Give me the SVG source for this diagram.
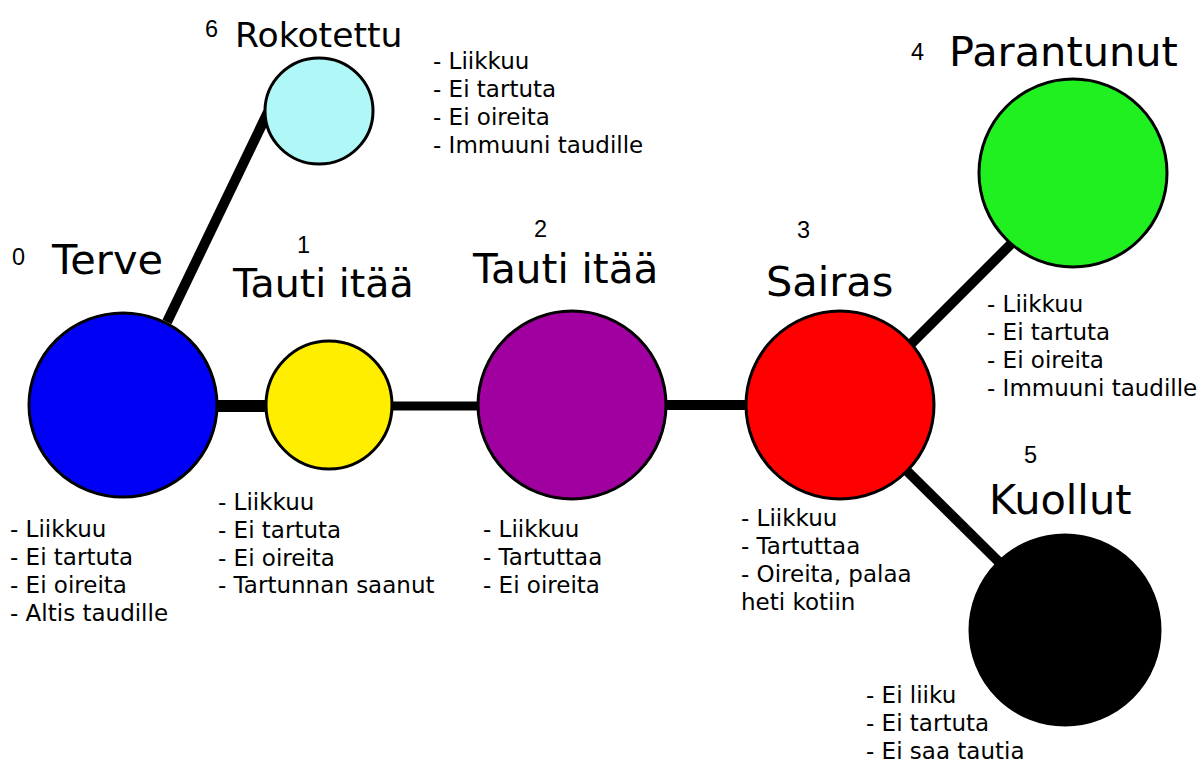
<svg xmlns="http://www.w3.org/2000/svg" width="1204" height="762" viewBox="0 0 1204 762">
<style>
.node{stroke:#000;stroke-width:3}
.edge{stroke:#000;fill:none}
.title{font-family:"DejaVu Sans","Noto Sans",sans-serif;font-size:41.5px;fill:#000}
.num{font-family:"Liberation Sans","DejaVu Sans",sans-serif;font-size:23.5px;fill:#000}
.list{font-family:"DejaVu Sans","Noto Sans",sans-serif;font-size:23px;fill:#000}
</style>
<rect width="1204" height="762" fill="#fff"/>
<g id="connectors">
<line class="edge" x1="167" y1="322" x2="268" y2="112" stroke-width="10"/>
<line class="edge" x1="215" y1="406" x2="268" y2="406" stroke-width="12"/>
<line class="edge" x1="390" y1="406" x2="480" y2="406" stroke-width="9"/>
<line class="edge" x1="665" y1="405" x2="747" y2="405" stroke-width="10"/>
<line class="edge" x1="910" y1="345" x2="1012" y2="243" stroke-width="10"/>
<line class="edge" x1="905" y1="469" x2="1000" y2="563" stroke-width="10"/>
</g>
<g id="node6">
<ellipse class="node" cx="319" cy="111" rx="54" ry="53" fill="#b0f7f7"/>
<text class="num" x="205" y="37">6</text>
<text class="title" x="235" y="47" style="font-size:34.6px">Rokotettu</text>
<text class="list" x="433" y="69">- Liikkuu</text>
<text class="list" x="433" y="97">- Ei tartuta</text>
<text class="list" x="433" y="125">- Ei oireita</text>
<text class="list" x="433" y="153">- Immuuni taudille</text>
</g>
<g id="node0">
<ellipse class="node" cx="123" cy="405" rx="94" ry="92" fill="#0000f5"/>
<text class="num" x="12" y="265">0</text>
<text class="title" x="52" y="274">Terve</text>
<text class="list" x="10" y="537">- Liikkuu</text>
<text class="list" x="10" y="565">- Ei tartuta</text>
<text class="list" x="10" y="593">- Ei oireita</text>
<text class="list" x="10" y="621">- Altis taudille</text>
</g>
<g id="node1">
<ellipse class="node" cx="329" cy="405" rx="63" ry="64" fill="#ffee00"/>
<text class="num" x="297" y="253">1</text>
<text class="title" x="233" y="297" style="font-size:39.5px">Tauti itää</text>
<text class="list" x="218" y="510">- Liikkuu</text>
<text class="list" x="218" y="538">- Ei tartuta</text>
<text class="list" x="218" y="566">- Ei oireita</text>
<text class="list" x="218" y="593">- Tartunnan saanut</text>
</g>
<g id="node2">
<ellipse class="node" cx="572" cy="405" rx="94" ry="94" fill="#a000a0"/>
<text class="num" x="534" y="237">2</text>
<text class="title" x="473" y="283" style="font-size:40.5px">Tauti itää</text>
<text class="list" x="483" y="537">- Liikkuu</text>
<text class="list" x="483" y="565">- Tartuttaa</text>
<text class="list" x="483" y="593">- Ei oireita</text>
</g>
<g id="node3">
<ellipse class="node" cx="840" cy="405" rx="94" ry="94" fill="#ff0000"/>
<text class="num" x="797" y="238">3</text>
<text class="title" x="766" y="296">Sairas</text>
<text class="list" x="741" y="526">- Liikkuu</text>
<text class="list" x="741" y="554">- Tartuttaa</text>
<text class="list" x="741" y="582">- Oireita, palaa</text>
<text class="list" x="741" y="610">heti kotiin</text>
</g>
<g id="node4">
<ellipse class="node" cx="1073" cy="173" rx="94" ry="94" fill="#20f020"/>
<text class="num" x="911" y="60">4</text>
<text class="title" x="949" y="66">Parantunut</text>
<text class="list" x="987" y="312">- Liikkuu</text>
<text class="list" x="987" y="340">- Ei tartuta</text>
<text class="list" x="987" y="368">- Ei oireita</text>
<text class="list" x="987" y="396">- Immuuni taudille</text>
</g>
<g id="node5">
<ellipse class="node" cx="1065" cy="630" rx="95" ry="95" fill="#000"/>
<text class="num" x="1024" y="463">5</text>
<text class="title" x="989" y="514">Kuollut</text>
<text class="list" x="866" y="703">- Ei liiku</text>
<text class="list" x="866" y="731">- Ei tartuta</text>
<text class="list" x="866" y="759">- Ei saa tautia</text>
</g>
</svg>
